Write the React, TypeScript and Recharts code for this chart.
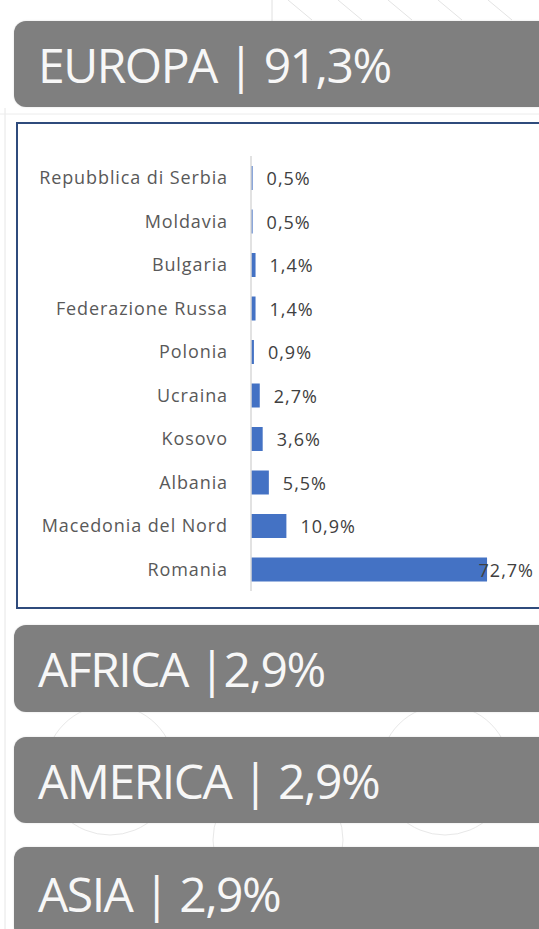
import { BarChart, Bar, XAxis, YAxis, LabelList } from "recharts";

const paesi = [
  "Repubblica di Serbia",
  "Moldavia",
  "Bulgaria",
  "Federazione Russa",
  "Polonia",
  "Ucraina",
  "Kosovo",
  "Albania",
  "Macedonia del Nord",
  "Romania",
];
const quote = [0.5, 0.5, 1.4, 1.4, 0.9, 2.7, 3.6, 5.5, 10.9, 72.7];

const continenti = ["EUROPA | 91,3%", "AFRICA |2,9%", "AMERICA | 2,9%", "ASIA | 2,9%"];

const data = paesi.map((nome, i) => ({ nome, quota: quote[i] }));

const FONT = "'Open Sans', 'Noto Sans', sans-serif";
const LABEL_GAP = 14;
const LABEL_ROOM = 60;
const LABEL_LIMIT = 534;

const fmt = (v: number) => v.toFixed(1).replace(".", ",") + "%";

const ValueLabel = (props: any) => {
  const { x, y, width, height, value } = props;
  const start = x + width + LABEL_GAP;
  const fits = start + LABEL_ROOM <= LABEL_LIMIT;
  return (
    <text
      x={fits ? start : LABEL_LIMIT}
      y={y + height / 2}
      textAnchor={fits ? "start" : "end"}
      dominantBaseline="central"
      fill="#404040"
      fontSize={18}
      letterSpacing={1}
      fontFamily={FONT}
    >
      {fmt(value)}
    </text>
  );
};

function Header({ label, top, height }: { label: string; top: number; height: number }) {
  return (
    <div
      style={{
        position: "absolute",
        left: 14,
        top,
        width: 545,
        height,
        background: "#7f7f7f",
        borderRadius: 12,
        display: "flex",
        alignItems: "center",
        paddingLeft: 24,
        boxSizing: "border-box",
        color: "#f7f7f7",
        fontFamily: FONT,
        fontSize: 48,
        letterSpacing: -1.5,
        whiteSpace: "nowrap",
        boxShadow: "0 0 2px rgba(0,0,0,0.15)",
      }}
    >
      {label}
    </div>
  );
}

export default function App() {
  return (
    <div
      style={{
        position: "absolute",
        left: 0,
        top: 0,
        width: 539,
        height: 929,
        overflow: "hidden",
        background: "#ffffff",
      }}
    >
      {/* faint decorative lines of the slide background */}
      <svg width={539} height={929} style={{ position: "absolute", left: 0, top: 0 }}>
        <line x1={5} y1={108} x2={5} y2={929} stroke="#e6e6e6" strokeWidth={1} />
        <line x1={0} y1={114} x2={539} y2={114} stroke="#ececec" strokeWidth={1} />
        <line x1={272} y1={0} x2={272} y2={22} stroke="#e0e0e0" strokeWidth={1} />
        {[300, 350, 400, 450, 500].map((x) => (
          <line key={x} x1={x - 12} y1={0} x2={x + 12} y2={20} stroke="#e3e3e3" strokeWidth={1} />
        ))}
        <circle cx={110} cy={770} r={65} fill="none" stroke="#e8e8e8" />
        <circle cx={445} cy={770} r={65} fill="none" stroke="#e8e8e8" />
        <circle cx={278} cy={840} r={65} fill="none" stroke="#e8e8e8" />
      </svg>

      <Header label={continenti[0]} top={21} height={86} />

      <div
        style={{
          position: "absolute",
          left: 16,
          top: 122,
          width: 545,
          height: 487,
          border: "2.5px solid #2f4b7c",
          boxSizing: "border-box",
          background: "#ffffff",
        }}
      />

      <div style={{ position: "absolute", left: 0, top: 123 }}>
        <BarChart
          width={539}
          height={485}
          data={data}
          layout="vertical"
          margin={{ top: 33, right: 12, bottom: 17, left: 0 }}
        >
          <XAxis type="number" domain={[0, 85]} hide />
          <YAxis
            type="category"
            dataKey="nome"
            width={251}
            tickSize={0}
            tickMargin={23}
            axisLine={{ stroke: "#d9d9d9", strokeWidth: 1.5 }}
            tickLine={false}
            tick={{ fill: "#595959", fontSize: 18, fontFamily: FONT, letterSpacing: 0.9 }}
            interval={0}
          />
          <Bar dataKey="quota" fill="#4472c4" barSize={24} isAnimationActive={false}>
            <LabelList dataKey="quota" content={ValueLabel} />
          </Bar>
        </BarChart>
      </div>

      <Header label={continenti[1]} top={625} height={87} />
      <Header label={continenti[2]} top={737} height={86} />
      <Header label={continenti[3]} top={847} height={92} />
    </div>
  );
}
